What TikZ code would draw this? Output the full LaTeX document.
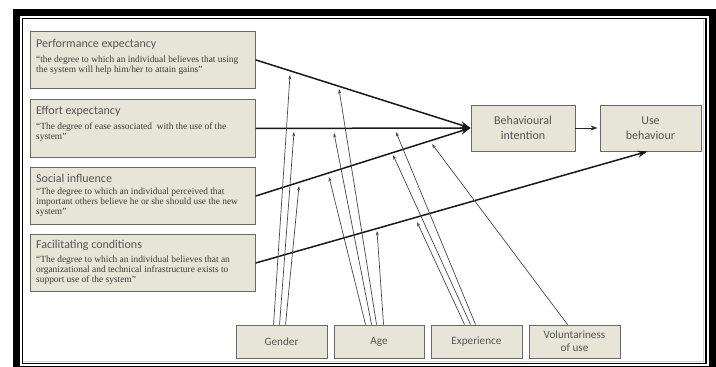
\documentclass[tikz,border=0pt]{standalone}
\usepackage{fontspec}
\setmainfont{Liberation Serif}
\newfontfamily\headfont{Carlito}
\usetikzlibrary{arrows.meta,calc}
\definecolor{boxfill}{RGB}{231,229,216}
\definecolor{boxline}{RGB}{105,105,98}
\definecolor{headgray}{RGB}{85,85,85}
\definecolor{quotegray}{RGB}{60,58,52}
\tikzset{
  cbox/.style={draw=boxline, line width=0.9pt, fill=boxfill, anchor=north west, inner sep=0pt, minimum width=225pt, minimum height=57pt},
  sbox/.style={draw=boxline, line width=0.9pt, fill=boxfill, inner sep=0pt, align=center, font=\headfont\fontsize{12}{14.5}\selectfont, text=headgray},
  bbox/.style={sbox, minimum width=91pt, minimum height=33pt, font=\headfont\fontsize{11.2}{13}\selectfont},
  htext/.style={anchor=base west, inner sep=0pt, font=\headfont\fontsize{12}{14}\selectfont, text=headgray},
  qtext/.style={anchor=north west, inner sep=0pt, align=left, font=\fontsize{9.4}{9.8}\selectfont, text=quotegray},
  mainarrow/.style={draw=black!90, line width=1.5pt, -{Stealth[length=10pt,width=7pt]}},
  modarrow/.style={draw=black!72, line width=0.7pt, -{Stealth[length=4.5pt,width=3pt]}},
}
\begin{document}
\begin{tikzpicture}[x=1pt,y=-1pt]
\useasboundingbox (0,0) rectangle (716,367);
% frame
\fill[white] (0,0) rectangle (716,367);
\fill[black] (13,9) rectangle (722,373);
\fill[white] (20,16) rectangle (709,366);
\draw[black, line width=1.2pt] (22.5,18.5) rectangle (706,363.5);
\draw[black!18, line width=1.5pt] (703.5,20) -- (703.5,361.5) -- (24,361.5);

% construct boxes
\node[cbox] (pe) at (30,31) {};
\node[htext] (peh) at ($(pe.north west)+(6,16)$) {Performance expectancy};
\node[qtext] (peq) at ($(pe.north west)+(6,25)$) {“the degree to which an individual believes that using\\the system will help him/her to attain gains”};

\node[cbox, minimum height=58pt] (ee) at (30,99) {};
\node[htext] (eeh) at ($(ee.north west)+(6,15)$) {Effort expectancy};
\node[qtext] (eeq) at ($(ee.north west)+(6,24)$) {“The degree of ease associated \ with the use of the\\system”};

\node[cbox] (si) at (30,167) {};
\node[htext] (sih) at ($(si.north west)+(6,15)$) {Social influence};
\node[qtext] (siq) at ($(si.north west)+(6,21)$) {“The degree to which an individual perceived that\\important others believe he or she should use the new\\system”};

\node[cbox] (fc) at (30,234) {};
\node[htext] (fch) at ($(fc.north west)+(6,14)$) {Facilitating conditions};
\node[qtext] (fcq) at ($(fc.north west)+(6,22)$) {“The degree to which an individual believes that an\\organizational and technical infrastructure exists to\\support use of the system”};

% outcome boxes
\node[sbox, minimum width=104pt, minimum height=46pt] (bi) at (523,128) {Behavioural\\intention};
\node[sbox, minimum width=101pt, minimum height=46pt] (ub) at (650.5,128) {Use\\behaviour};

% moderator boxes
\node[bbox] (gender) at (281.5,341.5) {Gender};
\node[bbox, minimum width=90pt] (age) at (379,341.5) {Age};
\node[bbox] (exp) at (476.5,341.5) {Experience};
\node[bbox] (vol) at (574.5,341.5) {Voluntariness\\of use};

% main arrows
\coordinate (ubin) at ($(ub.south west)!0.47!(ub.south east)$);
\draw[mainarrow] (pe.east) -- (bi.west);
\draw[mainarrow] (ee.east) -- (bi.west);
\draw[mainarrow] (si.east) -- (bi.west);
\draw[mainarrow] (fc.east) -- (ubin);
\draw[draw=black!85, line width=1pt, -{Stealth[length=7pt,width=5pt]}, shorten >=2pt] (bi.east) -- (ub.west);

% moderator tips
\coordinate (gPE) at (290,75);
\coordinate (gEE) at (294,132);
\coordinate (gSI) at (299,186);
\coordinate (aPE) at (339,89);
\coordinate (aEE) at (334,133);
\coordinate (aSI) at (329,177);
\coordinate (aFC) at (377,231);
\coordinate (eEE) at (396,132);
\coordinate (eSI) at (393,155);
\coordinate (eFC) at (417,222);
\coordinate (vSI) at (432,144);

% moderator feet
\coordinate (g1) at ($(gender.north west)+(38,0)$);
\coordinate (g2) at ($(gender.north west)+(44,0)$);
\coordinate (g3) at ($(gender.north west)+(50,0)$);
\coordinate (a1) at ($(age.north west)+(32,0)$);
\coordinate (a2) at ($(age.north west)+(38,0)$);
\coordinate (a3) at ($(age.north west)+(43,0)$);
\coordinate (a4) at ($(age.north west)+(50,0)$);
\coordinate (e1) at ($(exp.north west)+(34,0)$);
\coordinate (e2) at ($(exp.north west)+(40,0)$);
\coordinate (e3) at ($(exp.north west)+(45,0)$);
\coordinate (v1) at ($(vol.north west)+(39,0)$);

\draw[modarrow] (g1) -- (gPE);
\draw[modarrow] (g2) -- (gEE);
\draw[modarrow] (g3) -- (gSI);
\draw[modarrow] (a1) -- (aSI);
\draw[modarrow] (a2) -- (aEE);
\draw[modarrow] (a3) -- (aPE);
\draw[modarrow] (a4) -- (aFC);
\draw[modarrow] (e1) -- (eFC);
\draw[modarrow] (e2) -- (eSI);
\draw[modarrow] (e3) -- (eEE);
\draw[modarrow] (v1) -- (vSI);
\end{tikzpicture}
\end{document}
